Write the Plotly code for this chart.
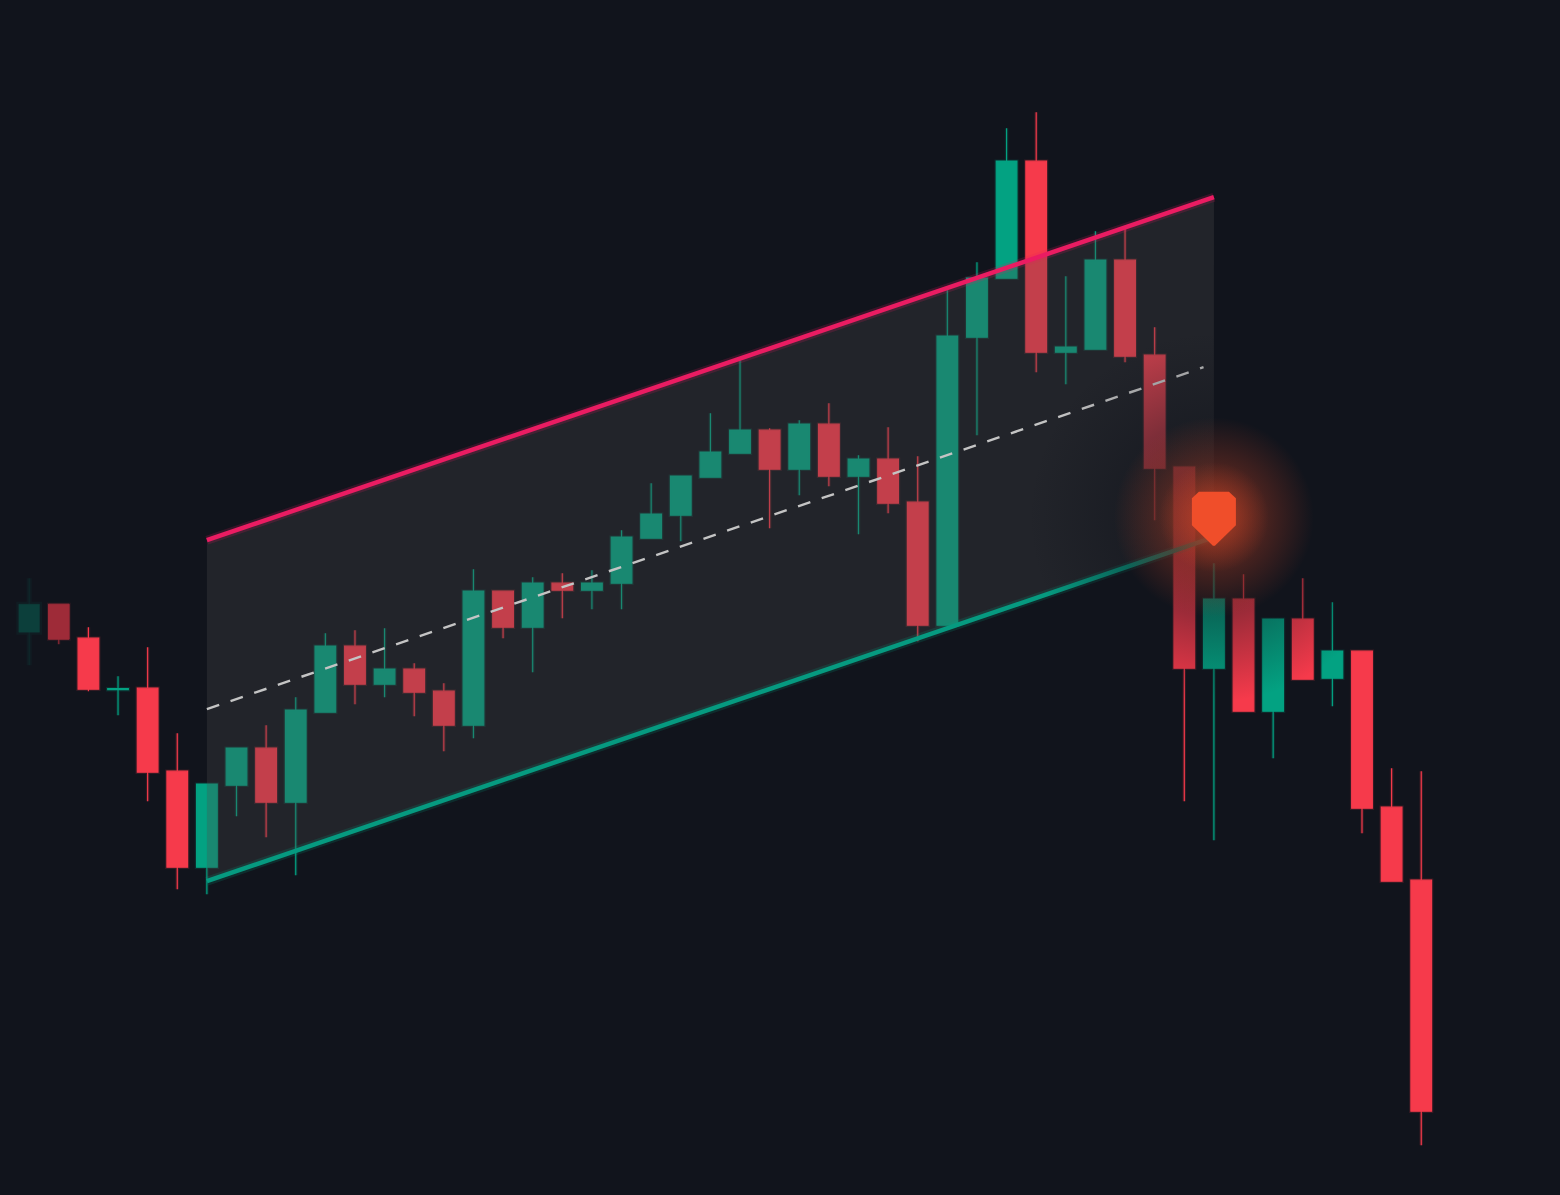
import plotly.graph_objects as go

# Candle data (arbitrary price units)
index = list(range(48))
open_ = [563,591,557,505.5,507,424,328,410,447,393,483,549,511,526,504,470,604,568,612,605,612,657,680,718,742,765,726,771,719,736,693,570,858,917,1034,843,846,935,840,728,527,596,484,576,517,544,388,315]
high = [617,591,568,519,548,462,411,447,470,498,562,565,567,532,512,626,604,618,622,625,665,712,719,782,835,767,775,792,740,768,739,905,933,1067,1083,919,964,967,868,728,632,621,576,617,593,544,427,424]
low = [530,551,504,480,394,306,301,379,358,320,483,491,498,479,444,457,557,523,577,586,586,657,654,718,742,667,700,709,661,682,554,570,760,917,823,811,846,833,675,394,355,484,437,516,489,362,314,50]
close = [591,556,506,506.5,423,328,411,447,393,485,549,511,526,503,470,604,568,612,605,612,658,681,719,743,765,726,771,719,736,692,570,859,917,1034,843,848,935,839,727,527,596,484,576,516,544,387,314,84]

# Regression channel: end candles and prices
channel_x = [6, 40]
upper = [655, 998]
lower = [314, 658]
mid_x = [6, 39.65]
mid = [486, 828]

# Signal marker
signal_x = 40
signal_y = 678

BG = "#11141c"
GREEN = "#03a282"
RED = "#f63a4b"

X_RANGE = [-0.985, 51.685]
Y_RANGE = [0.2, 1195.2]


def candles(idx, opacity=1.0, line_width=1.2):
    return go.Candlestick(
        x=[index[i] for i in idx],
        open=[open_[i] for i in idx],
        high=[high[i] for i in idx],
        low=[low[i] for i in idx],
        close=[close[i] for i in idx],
        opacity=opacity,
        whiskerwidth=0,
        increasing=dict(line=dict(color=GREEN, width=line_width), fillcolor=GREEN),
        decreasing=dict(line=dict(color=RED, width=line_width), fillcolor=RED),
        showlegend=False,
        hoverinfo="skip",
    )


fig = go.Figure()

# soft glow under the candles
fig.add_trace(candles(index[2:], opacity=0.16, line_width=3.5))
# faded, blurred first candles
fig.add_trace(candles([0], opacity=0.06, line_width=5))
fig.add_trace(candles([0], opacity=0.26, line_width=0.4))
fig.add_trace(candles([1], opacity=0.12, line_width=3))
fig.add_trace(candles([1], opacity=0.56, line_width=1))
# main candles
fig.add_trace(candles(index[2:]))

# channel fill above candles
fig.add_trace(go.Scatter(
    x=[channel_x[0], channel_x[1], channel_x[1], channel_x[0], channel_x[0]],
    y=[upper[0], upper[1], lower[1], lower[0], upper[0]],
    mode="lines", line=dict(width=0), fill="toself",
    fillcolor="rgba(76,76,76,0.30)", hoverinfo="skip", showlegend=False,
))


def channel_line(x, y, color, width, dash="solid"):
    return go.Scatter(x=x, y=y, mode="lines",
                      line=dict(color=color, width=width, dash=dash),
                      hoverinfo="skip", showlegend=False)


fig.add_trace(channel_line(channel_x, upper, "rgba(233,30,99,0.18)", 9))
fig.add_trace(channel_line(channel_x, lower, "rgba(5,160,130,0.18)", 9))
fig.add_trace(channel_line(channel_x, upper, "#ea1c62", 4.5))
fig.add_trace(channel_line(channel_x, lower, "#069a80", 4.5))
fig.add_trace(channel_line(mid_x, mid, "#c4c4c4", 2.4, "13px,12px"))


def halo(size, center, edge):
    return go.Scatter(
        x=[signal_x], y=[signal_y], mode="markers",
        marker=dict(size=size, color=edge, symbol="circle", line=dict(width=0),
                    gradient=dict(type="radial", color=center)),
        hoverinfo="skip", showlegend=False,
    )


# dark vignette round the signal, then its orange glow
fig.add_trace(halo(370, "rgba(17,20,28,0.85)", "rgba(17,20,28,0)"))
fig.add_trace(halo(200, "rgba(244,78,40,0.50)", "rgba(244,78,40,0)"))
fig.add_trace(halo(110, "rgba(244,78,40,0.45)", "rgba(244,78,40,0)"))

fig.update_layout(
    width=1560, height=1195,
    margin=dict(l=0, r=0, t=0, b=0),
    paper_bgcolor=BG, plot_bgcolor=BG,
    showlegend=False,
    boxgap=0.165, boxgroupgap=0.165,
    xaxis=dict(range=X_RANGE, visible=False, rangeslider=dict(visible=False), fixedrange=True),
    yaxis=dict(range=Y_RANGE, visible=False, fixedrange=True),
    shapes=[dict(
        type="path", layer="above",
        xref="x", yref="y",
        xsizemode="pixel", ysizemode="pixel",
        xanchor=signal_x, yanchor=signal_y,
        path="M -22 -8 L -22 19 L -15 25.5 L 15 25.5 L 22 19 L 22 -8 L 1 -28.5 L -1 -28.5 Z",
        fillcolor="#f04e2a", line=dict(width=0),
    )],
)

fig.write_html(
    "out.html",
    config=dict(displayModeBar=False),
    post_script=f"document.body.style.margin='0';document.body.style.background='{BG}';",
)
